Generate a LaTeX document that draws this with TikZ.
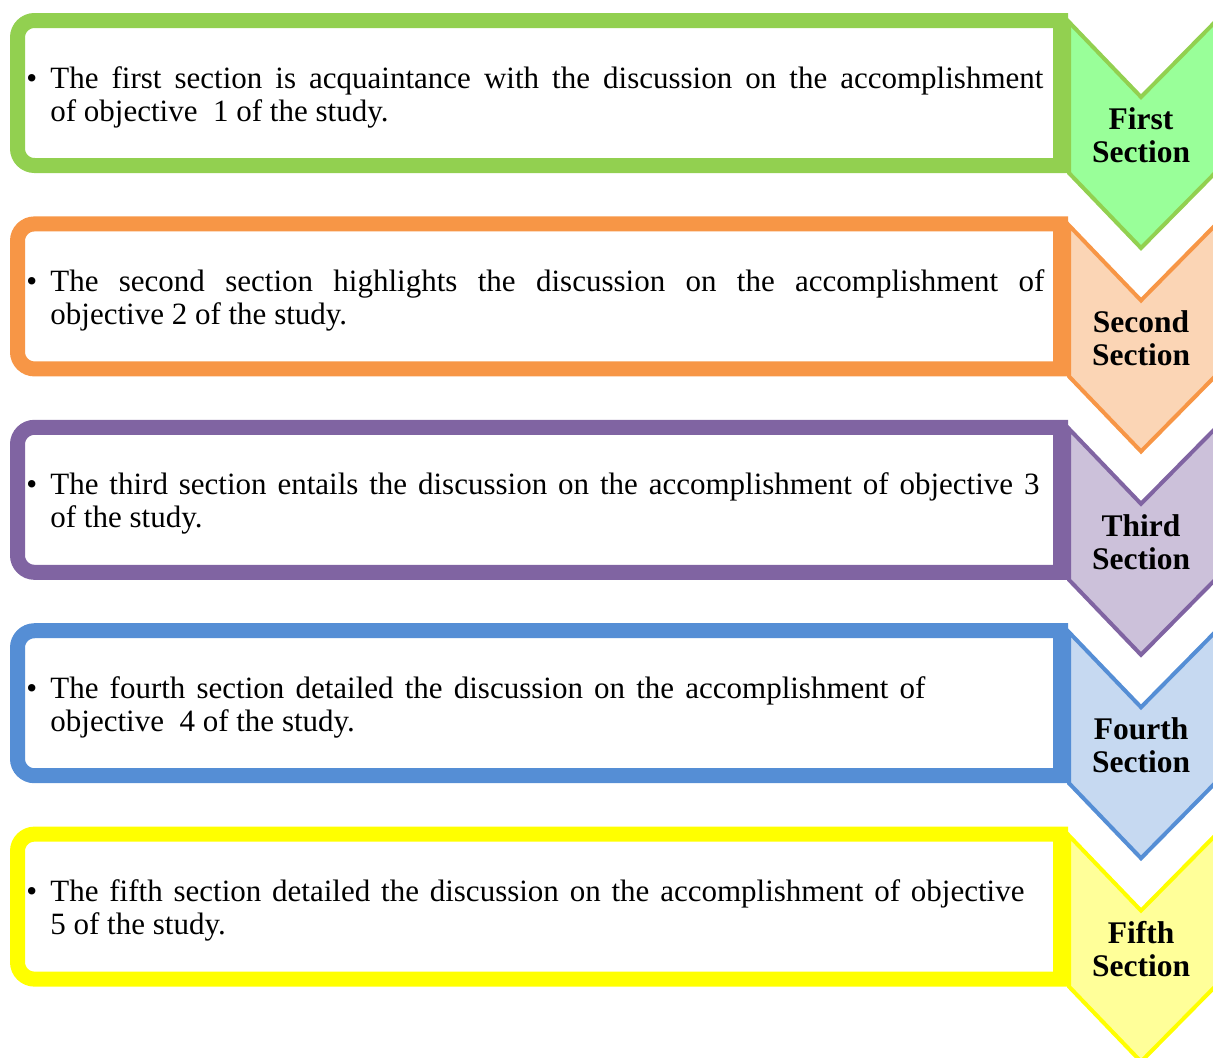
\documentclass[tikz,border=0pt]{standalone}
\usepackage{fontspec}
\setmainfont{Liberation Serif}

\definecolor{greenline}{HTML}{92D050}
\definecolor{greenfill}{HTML}{99FF99}
\definecolor{orangeline}{HTML}{F79646}
\definecolor{orangefill}{HTML}{FBD5B5}
\definecolor{purpleline}{HTML}{8064A2}
\definecolor{purplefill}{HTML}{CCC1DA}
\definecolor{blueline}{HTML}{558ED5}
\definecolor{bluefill}{HTML}{C6D9F1}
\definecolor{yellowline}{HTML}{FFFF00}
\definecolor{yellowfill}{HTML}{FFFF99}

% frame and chevron outlines of one row, in row-local coordinates
\newcommand\rowshapes[2]{%
  \draw[chev, draw=#1, fill=#2]
    (1069,-9) -- (1141,-84) -- (1215,-9) -- (1215,-160) -- (1141,-235) -- (1069,-160) -- cycle;
  \draw[frame, draw=#1]
    (1060.5,-152.5) -- (1060.5,-7.5) -- (34.5,-7.5)
    arc[start angle=90, end angle=180, radius=17] -- (17.5,-135.5)
    arc[start angle=180, end angle=270, radius=17] -- cycle;
}

\begin{document}
\begin{tikzpicture}[x=0.5pt, y=0.5pt,
  frame/.style={line width=7.5pt, fill=white, line join=miter},
  chev/.style={line width=2pt, line join=miter},
  bodytext/.style={anchor=base west, inner sep=0pt, font=\fontsize{15.5}{16.5}\selectfont},
  sectlabel/.style={anchor=north, inner sep=0pt, align=center, font=\fontsize{15.75}{16.5}\selectfont\bfseries}]
  \useasboundingbox (0,0) rectangle (1213,-1057);
  \clip (0,0) rectangle (1213,-1057);

  % first row
  \begin{scope}[shift={(0,-13)}]
    \rowshapes{greenline}{greenfill}
    \node[bodytext] (b1) at (26,-75) {•};
    \node[bodytext] (t1a) at (50,-75) {\makebox[496.5pt][s]{The first section is acquaintance with the discussion on the accomplishment}};
    \node[bodytext] (t1b) at (50,-108) {of objective\ \ 1 of the study.};
    \node[sectlabel] (s1) at (1141,-94) {First\\Section};
  \end{scope}

  % second row
  \begin{scope}[shift={(0,-216.4)}]
    \rowshapes{orangeline}{orangefill}
    \node[bodytext] (b2) at (26,-75) {•};
    \node[bodytext] (t2a) at (50,-75) {\makebox[497pt][s]{The second section highlights the discussion on the accomplishment of}};
    \node[bodytext] (t2b) at (50,-108) {objective 2 of the study.};
    \node[sectlabel] (s2) at (1141,-94) {Second\\Section};
  \end{scope}

  % third row
  \begin{scope}[shift={(0,-419.8)}]
    \rowshapes{purpleline}{purplefill}
    \node[bodytext] (b3) at (26,-75) {•};
    \node[bodytext] (t3a) at (50,-75) {\makebox[494.5pt][s]{The third section entails the discussion on the accomplishment of objective 3}};
    \node[bodytext] (t3b) at (50,-108) {of the study.};
    \node[sectlabel] (s3) at (1141,-94) {Third\\Section};
  \end{scope}

  % fourth row
  \begin{scope}[shift={(0,-623.2)}]
    \rowshapes{blueline}{bluefill}
    \node[bodytext] (b4) at (26,-75) {•};
    \node[bodytext] (t4a) at (50,-75) {\makebox[437.5pt][s]{The fourth section detailed the discussion on the accomplishment of}};
    \node[bodytext] (t4b) at (50,-108) {objective\ \ 4 of the study.};
    \node[sectlabel] (s4) at (1141,-94) {Fourth\\Section};
  \end{scope}

  % fifth row
  \begin{scope}[shift={(0,-826.6)}]
    \rowshapes{yellowline}{yellowfill}
    \node[bodytext] (b5) at (26,-75) {•};
    \node[bodytext] (t5a) at (50,-75) {\makebox[487pt][s]{The fifth section detailed the discussion on the accomplishment of objective}};
    \node[bodytext] (t5b) at (50,-108) {5 of the study.};
    \node[sectlabel] (s5) at (1141,-94) {Fifth\\Section};
  \end{scope}
\end{tikzpicture}
\end{document}
